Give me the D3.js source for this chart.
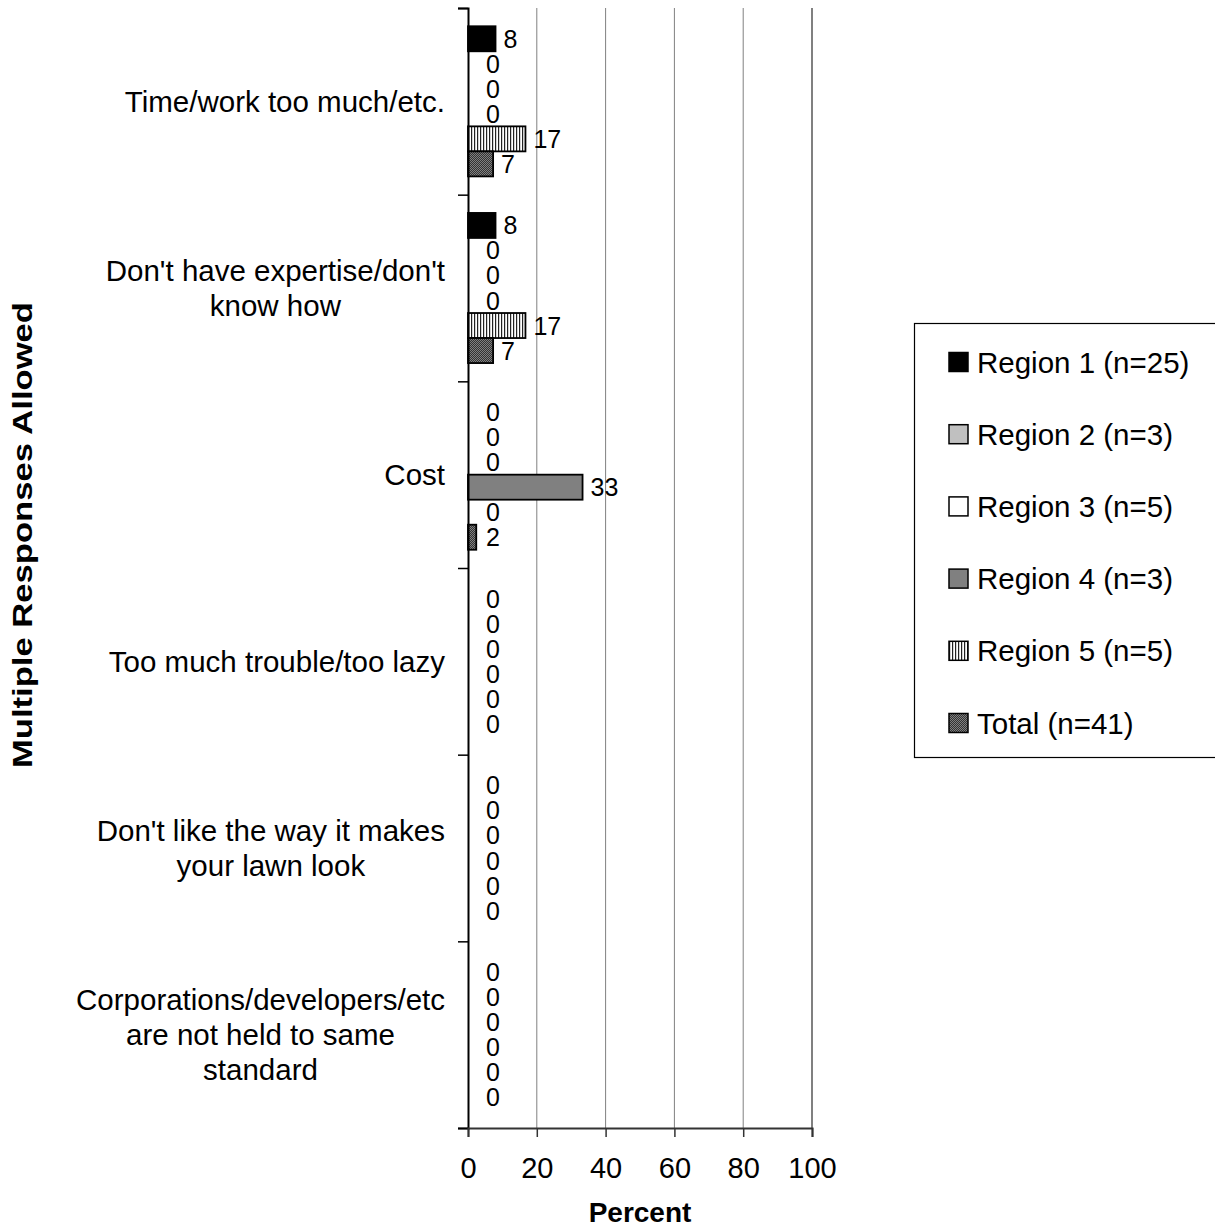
<!DOCTYPE html>
<html>
<head>
<meta charset="utf-8">
<script src="https://cdn.jsdelivr.net/npm/d3@7"></script>
<style>
  body { margin: 0; background: #fff; }
  svg { display: block; font-family: "Liberation Sans", Arial, sans-serif; }
</style>
</head>
<body>
<svg id="viz" width="1215" height="1230"></svg>
<script>
// categories, top to bottom; each entry is the lines of its label
var categories = [
	["Time/work too much/etc."],
	["Don't have expertise/don't", "know how"],
	["Cost"],
	["Too much trouble/too lazy"],
	["Don't like the way it makes", "your lawn look"],
	["Corporations/developers/etc", "are not held to same", "standard"]
];
var seriesNames = ["Region 1 (n=25)", "Region 2 (n=3)", "Region 3 (n=5)",
	"Region 4 (n=3)", "Region 5 (n=5)", "Total (n=41)"];

// percent per category, one array per series
var region1 = [8, 8, 0, 0, 0, 0];
var region2 = [0, 0, 0, 0, 0, 0];
var region3 = [0, 0, 0, 0, 0, 0];
var region4 = [0, 0, 33.3, 0, 0, 0];
var region5 = [16.7, 16.7, 0, 0, 0, 0];
var total = [7.3, 7.3, 2.4, 0, 0, 0];
var seriesValues = [region1, region2, region3, region4, region5, total];

var xTicks = [0, 20, 40, 60, 80, 100];

var fills = ["#000000", "#c0c0c0", "#ffffff", "#808080", "url(#stripes)", "url(#hatch)"];

var plot = { left: 468, right: 812, top: 8, bottom: 1128 };

var svg = d3.select('#viz');

/* patterns */
var defs = svg.append("defs");
var stripes = defs.append("pattern")
	.attr("id", "stripes")
	.attr("patternUnits", "userSpaceOnUse")
	.attr("width", 3).attr("height", 3);
stripes.append("rect").attr("width", 3).attr("height", 3).attr("fill", "#fff");
stripes.append("rect").attr("width", 1.2).attr("height", 3).attr("fill", "#222");

var hatch = defs.append("pattern")
	.attr("id", "hatch")
	.attr("patternUnits", "userSpaceOnUse")
	.attr("width", 2).attr("height", 2);
hatch.append("rect").attr("width", 2).attr("height", 2).attr("fill", "#333");
hatch.append("rect").attr("width", 1).attr("height", 1).attr("fill", "#808080");
hatch.append("rect").attr("x", 1).attr("y", 1).attr("width", 1).attr("height", 1).attr("fill", "#808080");

/* scales */
var x = d3.scaleLinear()
	.domain([0, 100])
	.range([plot.left, plot.right]);

var yCat = d3.scaleBand()
	.domain(d3.range(categories.length))
	.range([plot.top, plot.bottom])
	.padding(0);

var yBar = d3.scaleBand()
	.domain(d3.range(seriesNames.length))
	.range([0, yCat.bandwidth()])
	.paddingInner(0)
	.paddingOuter(0.73);

var yEdge = d3.scaleLinear()
	.domain([0, categories.length])
	.range([plot.top, plot.bottom]);

/* gridlines */
svg.append("g")
	.selectAll("line")
	.data(xTicks.slice(1))
	.enter().append("line")
	.attr("x1", function(d) { return x(d); })
	.attr("x2", function(d) { return x(d); })
	.attr("y1", plot.top)
	.attr("y2", plot.bottom)
	.attr("stroke", "#808080")
	.attr("stroke-width", function(d) { return d === 100 ? 2 : 1; });

/* bars */
var rows = [];
categories.forEach(function(c, ci) {
	seriesValues.forEach(function(vals, si) {
		rows.push({ cat: ci, series: si, value: vals[ci] });
	});
});

var bars = svg.append("g");
bars.selectAll("rect")
	.data(rows.filter(function(d) { return d.value > 0; }))
	.enter().append("rect")
	.attr("x", x(0))
	.attr("y", function(d) { return yCat(d.cat) + yBar(d.series); })
	.attr("width", function(d) { return x(d.value) - x(0); })
	.attr("height", yBar.bandwidth())
	.attr("fill", function(d) { return fills[d.series]; })
	.attr("stroke", "#000")
	.attr("stroke-width", 1.8);

/* value labels */
var fmt = d3.format(".0f");
svg.append("g")
	.selectAll("text")
	.data(rows)
	.enter().append("text")
	.attr("x", function(d) { return Math.max(x(d.value) + 8, x(0) + 18); })
	.attr("y", function(d) { return yCat(d.cat) + yBar(d.series) + yBar.bandwidth() / 2; })
	.attr("dy", "0.36em")
	.attr("font-size", 25)
	.attr("fill", "#000")
	.text(function(d) { return fmt(d.value); });

/* axes */
var yAxis = d3.axisLeft(yEdge)
	.tickValues(d3.range(categories.length + 1))
	.tickFormat("")
	.tickSizeOuter(0)
	.tickSize(10);

var gy = svg.append("g")
	.attr("transform", "translate(" + plot.left + ",0)")
	.call(yAxis);
gy.select(".domain").attr("stroke", "#000").attr("stroke-width", 2);
gy.selectAll(".tick line").attr("stroke", "#000").attr("stroke-width", 1.5);

var xAxis = d3.axisBottom(x)
	.tickValues(xTicks)
	.tickSizeOuter(0)
	.tickSize(9)
	.tickPadding(20);

var gx = svg.append("g")
	.attr("transform", "translate(0," + plot.bottom + ")")
	.call(xAxis);
gx.select(".domain").attr("stroke", "#333").attr("stroke-width", 2);
gx.selectAll(".tick line").attr("stroke", "#333").attr("stroke-width", 1.5);
gx.selectAll(".tick text")
	.attr("font-size", 29)
	.attr("font-family", "Liberation Sans, Arial, sans-serif")
	.attr("fill", "#000");

/* category labels: block right-aligned at 445, lines centered */
var lineH = 35;
categories.forEach(function(lines, ci) {
	var g = svg.append("g");
	var cy = yCat(ci) + yCat.bandwidth() / 2;
	var texts = g.selectAll("text")
		.data(lines)
		.enter().append("text")
		.attr("font-size", 29.5)
		.attr("text-anchor", "middle")
		.attr("y", function(d, i) { return cy + (i - (lines.length - 1) / 2) * lineH; })
		.attr("dy", "0.36em")
		.text(function(d) { return d; });
	var w = 0;
	texts.each(function() { w = Math.max(w, this.getComputedTextLength()); });
	texts.attr("x", 445 - w / 2);
});

/* axis titles */
svg.append("text")
	.attr("transform", "translate(32,535) rotate(-90)")
	.attr("text-anchor", "middle")
	.attr("font-size", 28)
	.attr("font-weight", "bold")
	.attr("textLength", 466)
	.attr("lengthAdjust", "spacingAndGlyphs")
	.text("Multiple Responses Allowed");

svg.append("text")
	.attr("x", 640)
	.attr("y", 1222)
	.attr("text-anchor", "middle")
	.attr("font-size", 28)
	.attr("font-weight", "bold")
	.text("Percent");

/* legend */
var legend = svg.append("g");
legend.append("rect")
	.attr("x", 914.5)
	.attr("y", 323.5)
	.attr("width", 320)
	.attr("height", 434)
	.attr("fill", "#fff")
	.attr("stroke", "#000")
	.attr("stroke-width", 1.2);

var item = legend.selectAll(".item")
	.data(seriesNames)
	.enter().append("g")
	.attr("class", "item")
	.attr("transform", function(d, i) { return "translate(949," + (362 + i * 72.2) + ")"; });

item.append("rect")
	.attr("x", 0)
	.attr("y", -9.5)
	.attr("width", 19)
	.attr("height", 19)
	.attr("fill", function(d, i) { return fills[i]; })
	.attr("stroke", "#000")
	.attr("stroke-width", 1.5);

item.append("text")
	.attr("x", 28)
	.attr("dy", "0.36em")
	.attr("font-size", 29.5)
	.text(function(d) { return d; });
</script>
</body>
</html>
